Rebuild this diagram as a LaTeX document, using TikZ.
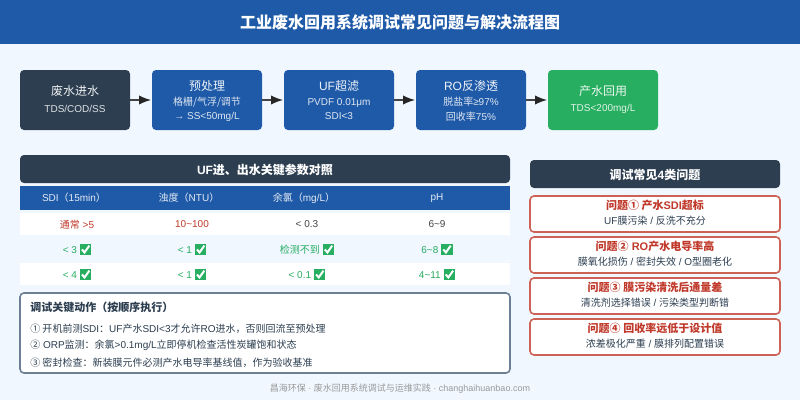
\documentclass[tikz,border=0pt]{standalone}
\usepackage{fontspec}
\setmainfont{Liberation Sans}
\newfontfamily\cjk{Noto Sans CJK SC}
\newcommand{\zh}[1]{{\cjk #1}}
\definecolor{pagebg}{HTML}{F0F7FF}
\definecolor{headblue}{HTML}{1F5AA8}
\definecolor{darkbar}{HTML}{2C3E50}
\definecolor{okgreen}{HTML}{27AE60}
\definecolor{badred}{HTML}{C0392B}
\definecolor{badline}{HTML}{CD6155}
\definecolor{notegray}{HTML}{6C7F93}
\definecolor{bodygray}{HTML}{444444}
\newcommand{\okmark}{\tikz[x=0.75pt,y=0.75pt,baseline=1.5pt]{\fill[okgreen] (0,0) rectangle (11.5,11.5);
    \draw[white,line width=1.5pt] (2.2,5.8) -- (4.8,2.8) -- (9.6,9.6);}}
\tikzset{
    flowbox/.style={rounded corners=3pt, minimum width=82.5pt, minimum height=45pt, inner sep=0pt},
    barbox/.style={rounded corners=3pt, fill=darkbar, inner sep=0pt},
    flowhead/.style={font=\fontsize{9}{11}\selectfont, text=white, opacity=0.92, inner sep=0pt},
    flowsub/.style={font=\fontsize{7.5}{9}\selectfont, text=white, opacity=0.85, inner sep=0pt},
    flowarrow/.style={draw=bodygray, line width=1.1pt, -{Latex[length=9pt,width=7pt,black!85]}, shorten >=0.5pt},
    barhead/.style={font=\fontsize{9}{11}\selectfont\bfseries, text=white, inner sep=0pt},
    colhead/.style={font=\fontsize{7.5}{9}\selectfont, text=white, opacity=0.88, inner sep=0pt},
    cell/.style={font=\fontsize{7.5}{9}\selectfont, inner sep=0pt},
    issuebox/.style={rounded corners=3pt, draw=badline, line width=1.2pt, fill=white, minimum width=187.5pt, minimum height=27pt, inner sep=0pt},
    issuehead/.style={font=\fontsize{8.25}{10}\selectfont\bfseries, text=badred, inner sep=0pt},
    issuesub/.style={font=\fontsize{7.5}{9}\selectfont, text=darkbar, inner sep=0pt},
    noteline/.style={font=\fontsize{7.5}{9}\selectfont, text=darkbar, anchor=west, inner sep=0pt},
}
\usetikzlibrary{arrows.meta}

\begin{document}
\begin{tikzpicture}[x=0.75pt,y=-0.75pt]
    \useasboundingbox (0,0) rectangle (800,400);
    \fill[pagebg] (0,0) rectangle (800,400);

    %Kopf
    \fill[headblue] (0,0) rectangle (800,44);
    \node[font=\fontsize{12}{14}\selectfont\bfseries, text=white, inner sep=0pt] (title) at (400,22) {\zh{工业废水回用系统调试常见问题与解决流程图}};

    %Ablauf
    \node[flowbox, fill=darkbar] (feed) at (75,100) {};
    \node[flowbox, fill=headblue] (pre) at (207,100) {};
    \node[flowbox, fill=headblue] (uf) at (339,100) {};
    \node[flowbox, fill=headblue] (ro) at (471,100) {};
    \node[flowbox, fill=okgreen] (reuse) at (603,100) {};

    \draw[flowarrow] (feed) -- (pre);
    \draw[flowarrow] (pre) -- (uf);
    \draw[flowarrow] (uf) -- (ro);
    \draw[flowarrow] (ro) -- (reuse);

    \node[flowhead] (feedt) at (75,90.5) {\zh{废水进水}};
    \node[flowsub] (feeda) at (75,108.5) {TDS/COD/SS};
    \node[flowhead] (pret) at (207,85.5) {\zh{预处理}};
    \node[flowsub] (prea) at (207,102) {\zh{格栅/气浮/调节}};
    \node[flowsub] (preb) at (207,117) {→ SS<50mg/L};
    \node[flowhead] (uft) at (339,85.5) {UF\zh{超滤}};
    \node[flowsub] (ufa) at (339,102.5) {PVDF 0.01μm};
    \node[flowsub] (ufb) at (339,116.5) {SDI<3};
    \node[flowhead] (rot) at (471,85.5) {RO\zh{反渗透}};
    \node[flowsub] (roa) at (471,102) {\zh{脱盐率}≥97\%};
    \node[flowsub] (rob) at (471,116.5) {\zh{回收率}75\%};
    \node[flowhead] (reuset) at (603,90.5) {\zh{产水回用}};
    \node[flowsub] (reusea) at (603,108.5) {TDS<200mg/L};

    %Tabelle
    \node[barbox, minimum width=367.5pt, minimum height=21pt] (tabbar) at (265,169) {};
    \node[barhead] (tabtitle) at (265,170) {UF\zh{进、出水关键参数对照}};
    \fill[headblue] (20,186) rectangle (510,210);
    \fill[white] (20,213) rectangle (510,235);
    \fill[white] (20,263) rectangle (510,285);

    \node[colhead] (hsdi) at (74,198) {SDI\zh{（}15min\zh{）}};
    \node[colhead] (hntu) at (189,198) {\zh{浊度（}NTU\zh{）}};
    \node[colhead] (hcl) at (304,198) {\zh{余氯（}mg/L\zh{）}};
    \node[colhead] (hph) at (437,198) {pH};

    \node[cell, text=badred] (asdi) at (77,224.5) {\zh{通常} >5};
    \node[cell, text=badred] (antu) at (192,224.5) {10\textasciitilde100};
    \node[cell, text=bodygray] (acl) at (307,224.5) {< 0.3};
    \node[cell, text=bodygray] (aph) at (437,224.5) {6\textasciitilde9};

    \node[cell, text=okgreen] (bsdi) at (77,249.5) {< 3 \okmark};
    \node[cell, text=okgreen] (bntu) at (192,249.5) {< 1 \okmark};
    \node[cell, text=okgreen] (bcl) at (307,249.5) {\zh{检测不到} \okmark};
    \node[cell, text=okgreen] (bph) at (437,249.5) {6\textasciitilde8 \okmark};

    \node[cell, text=okgreen] (csdi) at (77,274.5) {< 4 \okmark};
    \node[cell, text=okgreen] (cntu) at (192,274.5) {< 1 \okmark};
    \node[cell, text=okgreen] (ccl) at (307,274.5) {< 0.1 \okmark};
    \node[cell, text=okgreen] (cph) at (437,274.5) {4\textasciitilde11 \okmark};

    %Hinweise
    \node[rounded corners=3pt, draw=notegray, line width=1.2pt, fill=white, minimum width=367.5pt, minimum height=60pt, inner sep=0pt] (notes) at (265,333) {};
    \node[noteline, font=\fontsize{8.25}{10}\selectfont\bfseries] (notet) at (30,307) {\zh{调试关键动作（按顺序执行）}};
    \node[noteline] (notea) at (30,328.5) {\zh{① 开机前测}SDI\zh{：}UF\zh{产水}SDI<3\zh{才允许}RO\zh{进水，否则回流至预处理}};
    \node[noteline] (noteb) at (30,345.5) {\zh{②} ORP\zh{监测：余氯}>0.1mg/L\zh{立即停机检查活性炭罐饱和状态}};
    \node[noteline] (notec) at (30,362.5) {\zh{③ 密封检查：新装膜元件必测产水电导率基线值，作为验收基准}};

    %Probleme
    \node[barbox, minimum width=187.5pt, minimum height=21pt] (issbar) at (655,174) {};
    \node[barhead] (isstitle) at (655,174.5) {\zh{调试常见}4\zh{类问题}};

    \node[issuebox] (issa) at (655,214) {};
    \node[issuehead] (issat) at (655,205) {\zh{问题① 产水}SDI\zh{超标}};
    \node[issuesub] (issas) at (655,220.5) {UF\zh{膜污染} / \zh{反洗不充分}};
    \node[issuebox] (issb) at (655,255) {};
    \node[issuehead] (issbt) at (655,246) {\zh{问题②} RO\zh{产水电导率高}};
    \node[issuesub] (issbs) at (655,261.5) {\zh{膜氧化损伤} / \zh{密封失效} / O\zh{型圈老化}};
    \node[issuebox] (issc) at (655,296) {};
    \node[issuehead] (issct) at (655,287) {\zh{问题③ 膜污染清洗后通量差}};
    \node[issuesub] (isscs) at (655,302.5) {\zh{清洗剂选择错误} / \zh{污染类型判断错}};
    \node[issuebox] (issd) at (655,337) {};
    \node[issuehead] (issdt) at (655,328) {\zh{问题④ 回收率远低于设计值}};
    \node[issuesub] (issds) at (655,343.5) {\zh{浓差极化严重} / \zh{膜排列配置错误}};

    %Fusszeile
    \node[font=\fontsize{6.75}{8}\selectfont, text=black!40, inner sep=0pt] (footer) at (400,389) {\zh{昌海环保} · \zh{废水回用系统调试与运维实践} · changhaihuanbao.com};
\end{tikzpicture}
\end{document}
